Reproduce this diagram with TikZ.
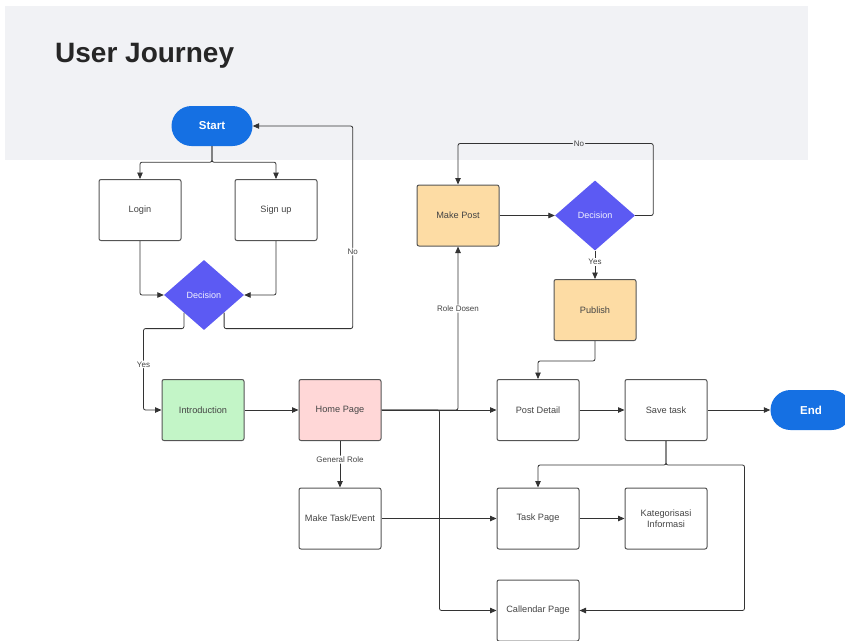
\documentclass[tikz,border=0pt]{standalone}
\usepackage{fontspec}
\setmainfont{Liberation Sans}
\usetikzlibrary{shapes.geometric,arrows.meta}
\definecolor{hdr}{HTML}{F1F2F5}
\definecolor{bluepill}{HTML}{1570E3}
\definecolor{decis}{HTML}{5C5AF3}
\definecolor{greenbox}{HTML}{C3F5C7}
\definecolor{pinkbox}{HTML}{FFD7D7}
\definecolor{orangebox}{HTML}{FDDCA4}
\definecolor{txt}{HTML}{444444}
\definecolor{edge}{HTML}{555555}
\definecolor{wire}{HTML}{333333}
\tikzset{
  box/.style={draw=edge, line width=1pt, rounded corners=2pt, minimum width=82pt, minimum height=61pt, inner sep=0pt, font=\fontsize{9.2}{11}\selectfont, text=txt, align=center, fill=white},
  pill/.style={fill=bluepill, rounded corners=20pt, minimum width=81pt, minimum height=40pt, inner sep=0pt, text=white, font=\fontsize{11.5}{13}\selectfont\bfseries},
  decision/.style={diamond, fill=decis, minimum width=80pt, minimum height=70pt, inner sep=0pt, text=white!92!decis, font=\fontsize{9}{10}\selectfont},
  arr/.style={draw=wire, line width=0.8pt, rounded corners=2pt, -{Triangle[length=6.5pt,width=5.5pt]}},
  lbl/.style={fill=white, inner sep=1pt, text=txt, font=\fontsize{8}{9}\selectfont},
}
\begin{document}
\begin{tikzpicture}[x=1pt, y=-1pt]
\useasboundingbox (0,0) rectangle (845,640);
\fill[hdr] (5,6) rectangle (808,160);
\node[anchor=base west, font=\fontsize{28}{32}\selectfont\bfseries, text=black!85, inner sep=0pt] (title) at (55,62) {User Journey};

% nodes
\node[pill] (start) at (212,126) {Start};
\node[box] (login) at (140,210) {Login};
\node[box] (signup) at (276,210) {Sign up};
\node[decision] (d1) at (204,295) {Decision};
\node[box, fill=greenbox] (intro) at (203,410) {Introduction};
\node[box, fill=pinkbox] (home) at (340,410) {Home Page};
\node[box] (mtask) at (340,518.5) {Make Task/Event};
\node[box, fill=orangebox] (mpost) at (458,215.5) {Make Post};
\node[decision] (d2) at (595,215.5) {Decision};
\node[box, fill=orangebox] (pub) at (595,310) {Publish};
\node[box] (pd) at (538,410) {Post Detail};
\node[box] (save) at (666,410) {Save task};
\node[pill] (end) at (811,410) {End};
\node[box] (task) at (538,518.5) {Task Page};
\node[box] (kat) at (666,518.5) {Kategorisasi\\Informasi};
\node[box] (cal) at (538,610.5) {Callendar Page};

% connectors
\draw[arr] (start.south) -- ++(0,16) -| (login.north);
\draw[arr] (start.south) -- ++(0,16) -| (signup.north);
\draw[arr] (login.south) |- (d1.west);
\draw[arr] (signup.south) |- (d1.east);
\draw[arr] (d1.south east) -- ++(0,16) -| node[pos=0.69, lbl] {No} ([xshift=100pt]start.east) -- (start.east);
\draw[arr] (d1.south west) -- ++(0,16) -| node[pos=0.72, lbl] {Yes} ([xshift=-18pt]intro.west) -- (intro.west);
\draw[arr] (intro.east) -- (home.west);
\draw[arr] (home.east) -| node[pos=0.81, lbl] {Role Dosen} (mpost.south);
\draw[arr] (home.east) -- (pd.west);
\draw[arr] (home.east) -- ([xshift=58pt]home.east) |- (cal.west);
\draw[arr] (home.south) -- node[pos=0.4, lbl] {General Role} (mtask.north);
\draw[arr] (mtask.east) -- (task.west);
\draw[arr] (mpost.east) -- (d2.west);
\draw[arr] (d2.east) -- ++(18,0) |- node[pos=0.69, lbl, fill=hdr] {No} ([yshift=41pt]mpost.north) -- (mpost.north);
\draw[arr] (d2.south) -- node[pos=0.4, lbl] {Yes} (pub.north);
\draw[arr] (pub.south) -- ++(0,20) -| (pd.north);
\draw[arr] (pd.east) -- (save.west);
\draw[arr] (save.east) -- (end.west);
\draw[arr] (save.south) -- ++(0,24) -| (task.north);
\draw[arr] (save.south) -- ++(0,24) -| ([xshift=165pt]cal.east) -- (cal.east);
\draw[arr] (task.east) -- (kat.west);
\end{tikzpicture}
\end{document}
